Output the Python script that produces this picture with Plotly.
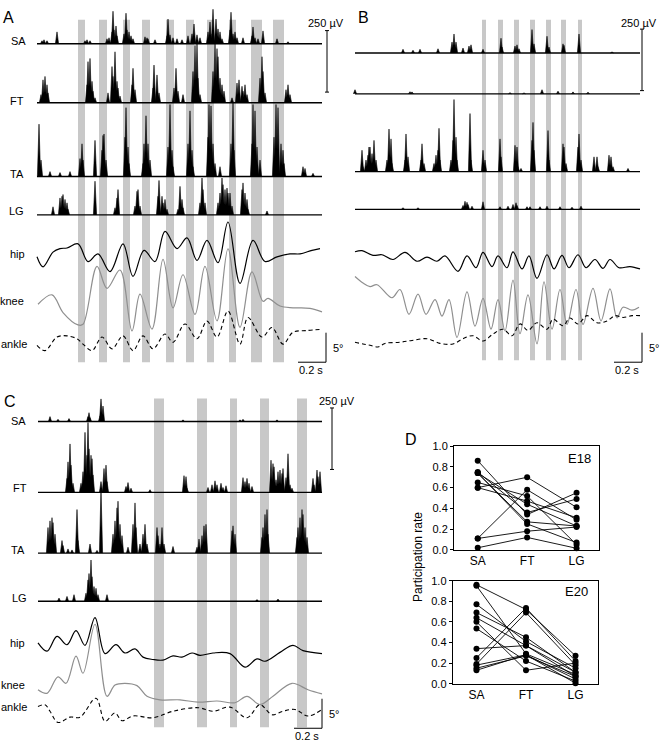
import plotly.graph_objects as go

# ---------------------------------------------------------------- data
FS = 140.0

# EMG spikes: (sample index, amplitude in µV)
A_SA = [(5,12),(7,16),(10,12),(20,48),(48,12),(50,16),(53,12),(70,20),(72,24),(75,48),(76,132),(77,56),(79,72),(80,32),
        (87,40),(89,124),(90,56),(92,48),(94,32),(96,20),(108,28),(110,24),(111,20),(118,16),(130,32),(131,100),(133,36),
        (136,24),(140,20),(145,16),(151,32),(155,40),(157,80),(160,36),(163,24),(171,48),(173,88),(175,40),(176,140),
        (179,100),(181,60),(183,48),(185,20),(193,56),(194,128),(196,40),(198,48),(200,24),(206,24),(215,32),(216,68),
        (218,24),(221,20),(226,52),(240,20),(251,8)]
A_FT = [(4,33),(6,93),(8,107),(10,73),(11,40),(50,73),(51,167),(53,180),(55,87),(56,47),(58,20),(71,40),(75,147),(76,107),
        (78,207),(80,87),(81,60),(83,27),(95,73),(96,140),(98,53),(116,60),(117,153),(120,113),(122,40),(137,60),(139,140),
        (141,47),(146,33),(156,127),(158,233),(160,240),(161,100),(163,33),(176,127),(178,253),(180,220),(181,187),(183,100),
        (185,73),(187,47),(195,20),(200,80),(202,93),(205,67),(206,47),(208,73),(210,33),(223,100),(225,187),(226,127),
        (228,40),(249,53),(251,73),(253,33)]
A_TA = [(2,213),(4,67),(13,20),(23,16),(33,20),(43,73),(45,133),(46,67),(58,147),(65,107),(66,167),(67,173),(69,67),(88,160),
        (89,280),(91,120),(92,53),(106,53),(107,133),(109,247),(111,133),(113,67),(131,120),(133,293),(135,107),(136,40),
        (151,133),(153,267),(155,107),(156,40),(171,160),(172,293),(174,287),(176,133),(178,53),(183,40),(194,133),(196,300),
        (197,107),(215,133),(216,293),(218,267),(220,120),(223,67),(237,160),(239,293),(241,280),(244,133),(246,107),(247,53),
        (266,40),(268,33),(276,13)]
A_LG = [(16,33),(23,69),(25,76),(26,83),(28,63),(30,49),(31,23),(58,137),(78,29),(80,69),(81,103),(98,36),(100,96),(101,103),
        (103,36),(121,76),(122,140),(125,76),(126,49),(128,63),(130,23),(141,23),(143,116),(145,63),(146,29),(163,49),(165,150),
        (166,103),(168,49),(181,49),(183,89),(185,150),(186,123),(188,103),(190,109),(191,89),(193,89),(195,36),(205,103),
        (206,130),(208,89),(210,63),(211,23),(230,16)]
# joint angles: (sample index, degrees relative to trace reference)
A_HIP = [(0,1.4),(6,-0.3),(16,2.2),(23,2.8),(30,2.9),(41,3.6),(51,0.6),(61,1.9),(73,-1.1),(86,3.6),(96,-1.9),(107,2.5),
         (118,0.6),(128,5.7),(140,2.8),(150,4.6),(160,0.8),(170,4.2),(181,0.4),(191,7.3),(203,-3.1),(216,4.2),(228,0.6),
         (240,1.4),(253,1.9),(263,1.9),(275,2.5),(283,2.8)]
A_KNEE = [(1,1.7),(15,3.3),(26,0.3),(41,-1.8),(46,-1.7),(60,8.1),(70,4.4),(83,7.5),(95,-2.8),(103,3.4),(115,-2.5),(126,9.3),
          (136,1.1),(146,6.7),(158,0.0),(168,8.1),(180,-1.1),(191,11.1),(203,-2.2),(215,7.2),(226,2.2),(231,2.7),(243,1.4),
          (256,1.1),(273,1.0),(285,0.4)]
A_ANKLE = [(0,-0.8),(8,-1.7),(20,0.6),(30,0.8),(40,0.3),(46,-0.6),(55,-1.7),(65,0.6),(75,-1.4),(86,0.8),(96,-1.7),(106,0.8),
           (116,-1.4),(128,1.1),(136,-0.3),(148,2.8),(160,0.3),(170,3.3),(180,0.6),(191,5.0),(203,-0.6),(211,3.9),(225,0.6),
           (235,2.2),(246,-0.6),(256,1.4),(270,1.7),(285,1.9)]
A_STRIPES = [(41,48),(62,70),(86,93),(105,113),(129,137),(149,157),(170,177),(192,199),(214,225),(236,247)]
A_LEN = 285

B_SA = [(48,15),(58,11),(65,15),(83,17),(97,44),(99,77),(101,44),(108,20),(114,28),(116,33),(128,15),(146,60),(147,24),
        (160,28),(162,33),(164,17),(177,95),(179,37),(192,68),(194,24),(208,37),(209,31),(224,77),(257,4)]
B_FT = [(0,17),(55,9),(57,8),(155,5),(169,4),(187,17),(203,11),(218,8),(233,7)]
B_TA = [(7,87),(8,20),(11,47),(13,67),(14,100),(15,100),(17,73),(19,127),(21,47),(32,47),(34,173),(36,133),(37,33),(50,47),
        (51,153),(53,60),(66,47),(67,113),(69,33),(79,33),(81,67),(83,87),(84,176),(85,47),(96,47),(98,127),(99,293),(101,140),
        (102,47),(115,236),(116,47),(128,87),(130,47),(145,133),(146,60),(160,107),(162,100),(163,20),(166,13),(177,127),
        (178,200),(179,87),(193,167),(194,47),(208,113),(209,100),(211,33),(223,100),(224,153),(226,47),(239,60),(242,60),
        (243,20),(254,67),(256,60),(258,20),(273,13)]
B_LG = [(48,7),(63,7),(108,16),(110,33),(112,29),(113,20),(117,13),(128,31),(145,11),(153,13),(158,20),(161,27),(162,16),
        (172,11),(175,11),(185,11),(192,13),(205,11),(217,9),(226,13)]
B_HIP = [(0,1.7),(7,1.9),(18,1.1),(27,1.2),(38,0.4),(50,1.6),(62,0.1),(72,0.8),(82,0.1),(90,1.0),(103,-1.6),(112,1.0),
         (121,-1.0),(128,1.6),(137,-0.8),(143,1.0),(152,-1.0),(158,1.7),(167,-1.2),(174,1.0),(182,-2.8),(192,1.2),(199,-1.2),
         (207,1.1),(214,-1.0),(223,1.2),(231,-1.0),(240,0.4),(248,-1.1),(255,0.4),(264,-1.0),(275,-0.8),(285,-1.2)]
B_KNEE = [(0,5.3),(8,4.2),(15,3.6),(22,3.9),(37,1.7),(45,3.1),(54,-1.1),(63,2.3),(71,-1.1),(80,1.4),(87,-1.4),(94,1.4),
          (102,-5.0),(112,2.7),(120,-3.1),(128,1.6),(136,-3.6),(143,1.4),(150,-3.9),(158,4.7),(165,-4.4),(173,2.2),(182,-6.1),
          (189,4.4),(197,-3.6),(205,3.1),(212,-2.8),(221,3.1),(228,-2.8),(238,3.3),(246,-2.2),(255,3.2),(262,-1.7),(268,0.1),
          (277,-0.4),(284,0.1)]
B_ANKLE = [(0,-1.4),(8,-1.7),(15,-1.9),(23,-2.2),(30,-1.6),(45,-1.4),(57,-1.1),(72,-0.8),(85,-1.6),(98,-1.7),(108,-0.8),
           (118,-0.3),(128,-1.2),(138,0.0),(148,0.8),(157,-0.3),(165,1.7),(173,0.6),(182,1.9),(192,0.8),(198,2.5),(208,1.4),
           (215,2.7),(223,1.7),(232,3.1),(242,1.9),(252,2.2),(260,3.1),(268,2.8),(277,3.1),(285,3.1)]
B_STRIPES = [(127,131),(143,148),(159,164),(175,180),(191,196),(206,211),(223,227)]
B_LEN = 285

C_SA = [(12,20),(20,9),(31,12),(50,20),(51,36),(52,16),(62,23),(63,92),(65,63),(145,7),(202,7),(205,9),(239,7)]
C_FT = [(29,57),(30,124),(32,197),(33,111),(35,37),(43,37),(45,84),(47,244),(49,151),(50,284),(51,177),(53,151),(54,137),
        (55,71),(63,44),(66,97),(68,111),(69,44),(88,24),(90,40),(93,17),(112,11),(146,68),(148,64),(149,17),(170,20),(174,31),
        (177,47),(179,31),(183,37),(185,20),(188,27),(205,60),(207,44),(209,57),(211,37),(214,24),(233,131),(235,117),
        (236,104),(238,51),(240,84),(242,91),(244,77),(245,97),(248,60),(250,157),(252,31),(254,17),(275,57),(276,31),
        (279,91),(280,64),(282,84)]
C_TA = [(10,104),(12,131),(14,144),(15,124),(17,77),(24,51),(25,31),(30,17),(34,13),(39,177),(40,51),(52,37),(59,11),(63,264),
        (75,77),(77,131),(79,184),(80,211),(82,117),(84,71),(90,24),(95,117),(97,204),(98,104),(102,37),(105,77),(107,117),
        (109,37),(119,104),(120,71),(122,37),(124,104),(126,37),(135,27),(159,24),(161,57),(164,71),(166,111),(168,117),
        (194,91),(195,111),(197,77),(224,64),(225,104),(227,157),(229,177),(230,77),(259,64),(260,104),(262,144),(264,177),
        (265,157),(267,104),(269,64)]
C_LG = [(21,13),(29,20),(36,27),(48,33),(50,87),(51,113),(53,168),(54,100),(56,60),(58,53),(60,27),(69,27),(219,7),(240,9)]
C_HIP = [(0,1.0),(9,-0.4),(19,2.1),(29,0.7),(38,3.1),(47,0.6),(57,5.3),(67,-0.8),(78,0.7),(87,-0.7),(97,0.0),(105,-1.4),
         (115,-1.8),(125,-1.9),(135,-1.2),(144,-1.4),(154,-0.7),(162,-1.1),(175,-0.7),(192,-0.8),(207,-3.1),(219,-1.7),
         (227,-2.1),(242,-0.6),(255,0.6),(265,-0.3),(284,-0.8)]
C_KNEE = [(0,0.3),(9,-0.3),(20,2.5),(28,1.4),(38,6.0),(45,3.1),(57,11.4),(69,-0.8),(77,1.1),(87,1.4),(99,1.0),(109,-0.8),
          (122,-1.4),(142,-1.4),(160,-1.8),(179,-1.6),(197,-1.9),(209,-0.8),(222,-2.2),(235,-0.8),(254,1.4),(270,0.3),(284,-0.4)]
C_ANKLE = [(0,0.8),(7,1.1),(12,0.0),(20,-1.9),(32,-1.0),(42,-1.0),(58,2.2),(67,-1.7),(77,-0.3),(84,-1.6),(95,-0.8),
           (115,-1.1),(135,0.0),(160,0.6),(175,0.0),(192,0.7),(209,-1.1),(222,1.1),(234,-0.6),(245,0.0),(257,0.3),
           (270,-0.8),(284,0.3)]
C_STRIPES = [(116,126),(159,169),(192,199),(222,231),(259,269)]
C_LEN = 284

# Panel D: participation rate per animal (SA, FT, LG)
MUSCLES = ["SA", "FT", "LG"]
E18_SA = [0.86, 0.75, 0.74, 0.74, 0.65, 0.60, 0.60, 0.11, 0.11, 0.02, 0.74]
E18_FT = [0.34, 0.36, 0.27, 0.25, 0.52, 0.70, 0.47, 0.58, 0.18, 0.12, 0.44]
E18_LG = [0.55, 0.49, 0.23, 0.07, 0.05, 0.41, 0.31, 0.29, 0.22, 0.015, 0.23]
E20_SA = [0.96, 0.95, 0.77, 0.69, 0.64, 0.60, 0.535, 0.34, 0.25, 0.19, 0.18, 0.15, 0.13]
E20_FT = [0.72, 0.29, 0.41, 0.45, 0.37, 0.13, 0.22, 0.37, 0.735, 0.69, 0.28, 0.27, 0.28]
E20_LG = [0.27, 0.09, 0.15, 0.11, 0.07, 0.20, 0.025, 0.11, 0.22, 0.18, 0.005, 0.07, 0.045]
Y_TICKS = [0.0, 0.2, 0.4, 0.6, 0.8, 1.0]

SCALE_UV = 250   # µV
SCALE_DEG = 5    # degrees
SCALE_T = 0.2    # s

# ---------------------------------------------------------------- layout / style
W, H = 661, 750
EMG_GAIN = 0.25     # px per µV
DEG_GAIN = 6.0      # px per degree
HW = 1.6            # spike half-width (samples)
FONT = "Liberation Sans, Arial, sans-serif"
STRIPE = "#c8c8c8"
KNEE_COL = "#8f8f8f"

panels = {
    "A": dict(n=1, x0=37, xdom=(0, 342), ydom=(0, 375), length=A_LEN, stripes=A_STRIPES, sy=(14, 362),
              emg=[(A_SA, 38.3), (A_FT, 98.3), (A_TA, 173.3), (A_LG, 212.3)],
              ang=[(A_HIP, 263.3, "hip"), (A_KNEE, 313.3, "knee"), (A_ANKLE, 340.0, "ankle")],
              labels=[("SA", 18.5, 36), ("FT", 17, 97), ("TA", 16.7, 171), ("LG", 16, 208), ("hip", 17, 252),
                      ("knee", 12.3, 300), ("ankle", 14, 343)],
              letter=(8, 12), emgbar=(327, 87.5), uvlab=(326, 17, "center"), tbar=(326, 362)),
    "B": dict(n=2, x0=355, xdom=(342, 661), ydom=(0, 375), length=B_LEN, stripes=B_STRIPES, sy=(14, 360),
              emg=[(B_SA, 47.7), (B_FT, 89.3), (B_TA, 168.3), (B_LG, 206.7)],
              ang=[(B_HIP, 260.0, "hip"), (B_KNEE, 306.7, "knee"), (B_ANKLE, 333.3, "ankle")],
              labels=[], letter=(363, 12), emgbar=(642, 86), uvlab=(659, 17, "right"), tbar=(642, 362)),
    "C": dict(n=3, x0=38, xdom=(0, 345), ydom=(375, 750), length=C_LEN, stripes=C_STRIPES, sy=(399, 733),
              emg=[(C_SA, 422.3), (C_FT, 494.3), (C_TA, 556.0), (C_LG, 605.0)],
              ang=[(C_HIP, 653.3, "hip"), (C_KNEE, 696.7, "knee"), (C_ANKLE, 716.7, "ankle")],
              labels=[("SA", 18, 422), ("FT", 20, 490), ("TA", 17.5, 553), ("LG", 19, 602), ("hip", 17.5, 647),
                      ("knee", 12.5, 690), ("ankle", 14, 712)],
              letter=(10, 402), emgbar=(332, 471), uvlab=(337, 401, "center"), tbar=(322, 734)),
}

ANG_STYLE = {"hip": dict(color="black", width=1.2),
             "knee": dict(color=KNEE_COL, width=1.2),
             "ankle": dict(color="black", width=1.1, dash="4px,3px")}


def axn(n, k):
    return k if n == 1 else f"{k}{n}"


def P(px, py):
    return px / W, 1 - py / H


fig = go.Figure()
shapes, annots, axes = [], [], {}


def text(t, px, py, size=11, xanchor="center", **kw):
    x, y = P(px, py)
    annots.append(dict(text=t, x=x, y=y, xref="paper", yref="paper", showarrow=False,
                       font=dict(family=FONT, size=size, color="black"), xanchor=xanchor, yanchor="middle", **kw))


for name, p in panels.items():
    n = p["n"]
    xr, yr = axn(n, "x"), axn(n, "y")
    x0 = p["x0"]
    xd0, xd1 = p["xdom"]
    yd0, yd1 = p["ydom"]
    axes[axn(n, "xaxis")] = dict(domain=[xd0 / W, xd1 / W], range=[(xd0 - x0) / FS, (xd1 - x0) / FS],
                                 visible=False, anchor=yr, fixedrange=True)
    axes[axn(n, "yaxis")] = dict(domain=[1 - yd1 / H, 1 - yd0 / H], range=[yd1, yd0],
                                 visible=False, anchor=xr, fixedrange=True)
    # gray stripes
    for s, e in p["stripes"]:
        shapes.append(dict(type="rect", xref=xr, yref=yr, x0=s / FS, x1=e / FS, y0=p["sy"][0], y1=p["sy"][1],
                           fillcolor=STRIPE, line=dict(width=0), layer="below"))
    # EMG channels
    for spikes, base in p["emg"]:
        xs, ys = [], []
        for i, uv in spikes:
            xs += [(i - HW) / FS, i / FS, (i + HW) / FS, None]
            ys += [base, base - uv * EMG_GAIN, base, None]
        fig.add_trace(go.Scatter(x=xs, y=ys, mode="lines", fill="toself", fillcolor="black",
                                 line=dict(color="black", width=0.6), xaxis=xr, yaxis=yr,
                                 hoverinfo="skip", showlegend=False))
        fig.add_trace(go.Scatter(x=[0, p["length"] / FS], y=[base, base], mode="lines",
                                 line=dict(color="black", width=1.4), xaxis=xr, yaxis=yr,
                                 hoverinfo="skip", showlegend=False))
    # joint angles
    for pts, ref, kind in p["ang"]:
        fig.add_trace(go.Scatter(x=[i / FS for i, _ in pts], y=[ref - d * DEG_GAIN for _, d in pts],
                                 mode="lines", line=dict(shape="spline", smoothing=1.0, **ANG_STYLE[kind]),
                                 xaxis=xr, yaxis=yr, hoverinfo="skip", showlegend=False))
    # labels
    for t, lx, ly in p["labels"]:
        text(t, lx, ly, 11)
    text(name, *p["letter"], size=16)
    # EMG scale bar
    bx, byb = p["emgbar"]
    tb = (bx - x0) / FS
    ytop = byb - SCALE_UV * EMG_GAIN
    shapes.append(dict(type="line", xref=xr, yref=yr, x0=tb, x1=tb, y0=byb, y1=ytop, line=dict(color="black", width=1)))
    for yy in (byb, ytop):
        shapes.append(dict(type="line", xref=xr, yref=yr, x0=tb - 2 / FS, x1=tb + 2 / FS, y0=yy, y1=yy,
                           line=dict(color="black", width=1)))
    ux, uy, ua = p["uvlab"]
    text("250 µV", ux, uy, 11, xanchor=ua)
    # time / angle scale bar
    rx, ry = p["tbar"]
    tr = (rx - x0) / FS
    shapes.append(dict(type="line", xref=xr, yref=yr, x0=tr - SCALE_T, x1=tr, y0=ry, y1=ry,
                       line=dict(color="black", width=1)))
    shapes.append(dict(type="line", xref=xr, yref=yr, x0=tr, x1=tr, y0=ry, y1=ry - SCALE_DEG * DEG_GAIN,
                       line=dict(color="black", width=1)))
    text("5°", rx + 5, ry - 14, 11, xanchor="left")
    text("0.2 s", rx - 15, ry + 8, 11)

# ---------------------------------------------------------------- panel D
dpanels = [
    dict(n=4, xdom=(454, 599.3), ydom=(447.3, 552.7), sa=E18_SA, ft=E18_FT, lg=E18_LG, tag="E18", tagpos=(579, 460)),
    dict(n=5, xdom=(452.7, 598.3), ydom=(584, 688.7), sa=E20_SA, ft=E20_FT, lg=E20_LG, tag="E20", tagpos=(576, 595)),
]
for d in dpanels:
    n = d["n"]
    xr, yr = axn(n, "x"), axn(n, "y")
    xs, ys = [], []
    for a, b, c in zip(d["sa"], d["ft"], d["lg"]):
        xs += [0, 1, 2, None]
        ys += [a, b, c, None]
    fig.add_trace(go.Scatter(x=xs, y=ys, mode="lines+markers", line=dict(color="black", width=0.9),
                             marker=dict(color="black", size=6), xaxis=xr, yaxis=yr, cliponaxis=False,
                             hoverinfo="skip", showlegend=False))
    axes[axn(n, "xaxis")] = dict(domain=[d["xdom"][0] / W, d["xdom"][1] / W], range=[-0.48, 2.46],
                                 tickvals=[0, 1, 2], ticktext=MUSCLES, showline=True, mirror=True,
                                 linecolor="black", linewidth=1, showgrid=False, zeroline=False, ticks="",
                                 tickfont=dict(family=FONT, size=12, color="black"), anchor=yr, fixedrange=True)
    axes[axn(n, "yaxis")] = dict(domain=[1 - d["ydom"][1] / H, 1 - d["ydom"][0] / H], range=[0, 1],
                                 tickvals=Y_TICKS, tickformat=".1f", showline=True, mirror=True,
                                 linecolor="black", linewidth=1, showgrid=False, zeroline=False,
                                 ticks="outside", ticklen=3, tickcolor="black",
                                 tickfont=dict(family=FONT, size=11, color="black"), anchor=xr, fixedrange=True)
    text(d["tag"], *d["tagpos"], size=13)

text("D", 411, 441, size=16)
text("Participation rate", 418, 560, size=12, textangle=-90)

fig.update_layout(width=W, height=H, margin=dict(l=0, r=0, t=0, b=0), paper_bgcolor="white",
                  plot_bgcolor="rgba(0,0,0,0)", showlegend=False, shapes=shapes, annotations=annots,
                  font=dict(family=FONT), **axes)
fig.write_html("out.html", config={"displayModeBar": False},
               post_script="document.body.style.margin='0px';document.body.style.overflow='hidden';")
